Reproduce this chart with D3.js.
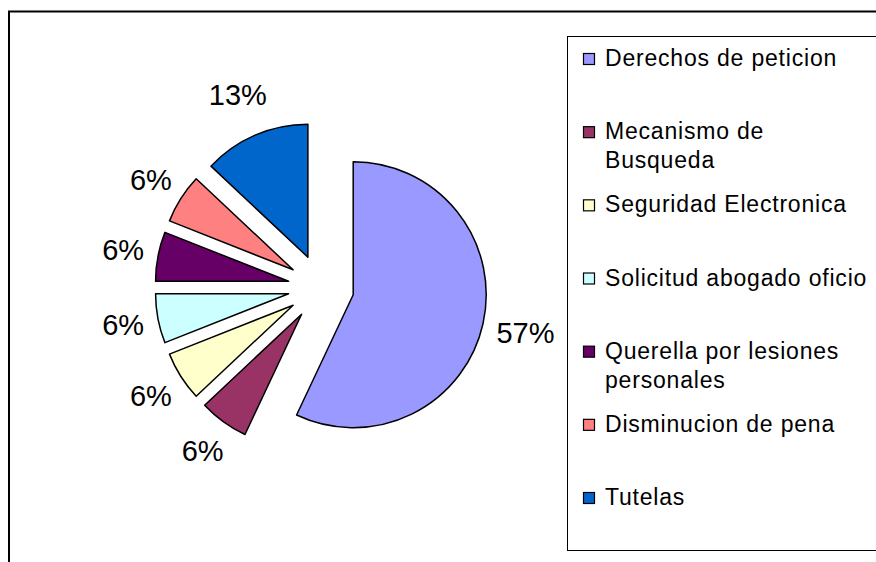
<!DOCTYPE html>
<html lang="es">

<head>
  <meta charset="utf-8">
  <title>Torta separada</title>
  <script src="https://d3js.org/d3.v7.min.js"></script>
</head>

<body>
  <div id="chart"></div>

  <style>
    body {
      margin: 0;
      background: #fff;
    }

    .mychart text {
      font-family: "Liberation Sans", Arial, sans-serif;
      fill: #000;
    }
  </style>

  <script type="text/javascript">
    "use strict"

    // datos
    var categorias = [
      "Derechos de peticion",
      "Mecanismo de Busqueda",
      "Seguridad Electronica",
      "Solicitud abogado oficio",
      "Querella por lesiones personales",
      "Disminucion de pena",
      "Tutelas"
    ];
    var porcentajes = [57, 6, 6, 6, 6, 6, 13];
    var colores = ["#9999FF", "#993366", "#FFFFCC", "#CCFFFF", "#660066", "#FF8080", "#0066CC"];

    function drawPie() {
      var width = 876, height = 562;
      var radio = 133, separacion = 33;
      var cx = 321, cy = 287.5;

      var svg = d3.select('#chart')
        .append('svg')
        .attr('class', 'mychart')
        .attr('width', width)
        .attr('height', height);

      // marco exterior (se sale de la imagen por derecha y abajo)
      svg.append('rect')
        .attr('x', 9)
        .attr('y', 11.5)
        .attr('width', 920)
        .attr('height', 620)
        .attr('fill', 'none')
        .attr('stroke', '#000')
        .attr('stroke-width', 2);

      var pie = d3.pie()
        .sort(null)
        .value(d => d);

      var arcos = pie(porcentajes);

      var arc = d3.arc()
        .innerRadius(0)
        .outerRadius(radio);

      var medio = d => (d.startAngle + d.endAngle) / 2;

      var g = svg.append('g')
        .attr('transform', 'translate(' + cx + ',' + cy + ')');

      /*
       * porciones separadas del centro
       */
      g.selectAll('path')
        .data(arcos)
        .enter()
        .append('path')
        .attr('d', arc)
        .attr('transform', d => 'translate(' + (Math.sin(medio(d)) * separacion) + ',' + (-Math.cos(medio(d)) * separacion) + ')')
        .attr('fill', (d, i) => colores[i])
        .attr('stroke', '#000')
        .attr('stroke-width', 1.5)
        .attr('stroke-linejoin', 'round');

      /*
       * etiquetas de porcentaje
       */
      var etiquetas = g.selectAll('text.pct')
        .data(arcos)
        .enter()
        .append('text')
        .attr('class', 'pct')
        .style('font-size', '29px')
        .attr('text-anchor', 'middle')
        .attr('dy', '0.35em')
        .text(d => d.data + '%');

      etiquetas.each(function (d) {
        var w = this.getComputedTextLength();
        var r = 202 + (w - 43) * 0.5;
        d3.select(this)
          .attr('x', Math.sin(medio(d)) * r)
          .attr('y', -Math.cos(medio(d)) * r);
      });

      /*
       * leyenda
       */
      svg.append('rect')
        .attr('x', 567.5)
        .attr('y', 36.5)
        .attr('width', 400)
        .attr('height', 514)
        .attr('fill', 'none')
        .attr('stroke', '#000')
        .attr('stroke-width', 1);

      var yLeyenda = d3.scalePoint()
        .domain(categorias)
        .range([66, 505]);

      var items = svg.selectAll('g.item')
        .data(categorias)
        .enter()
        .append('g')
        .attr('class', 'item')
        .attr('transform', d => 'translate(0,' + yLeyenda(d) + ')');

      items.append('rect')
        .attr('x', 583.5)
        .attr('y', -12.5)
        .attr('width', 11)
        .attr('height', 11)
        .attr('fill', (d, i) => colores[i])
        .attr('stroke', '#000')
        .attr('stroke-width', 1.2);

      var maxAncho = 268;
      items.each(function (d) {
        var t = d3.select(this).append('text')
          .attr('x', 605)
          .style('font-size', '23px')
          .style('letter-spacing', '0.8px');
        var palabras = d.split(' ');
        var linea = [];
        var n = 0;
        var tspan = t.append('tspan').attr('x', 605).attr('y', 0);
        palabras.forEach(function (p) {
          linea.push(p);
          tspan.text(linea.join(' '));
          if (tspan.node().getComputedTextLength() > maxAncho && linea.length > 1) {
            linea.pop();
            tspan.text(linea.join(' '));
            linea = [p];
            n++;
            tspan = t.append('tspan').attr('x', 605).attr('y', n * 29).text(p);
          }
        });
      });
    }

    drawPie();
  </script>
</body>

</html>
